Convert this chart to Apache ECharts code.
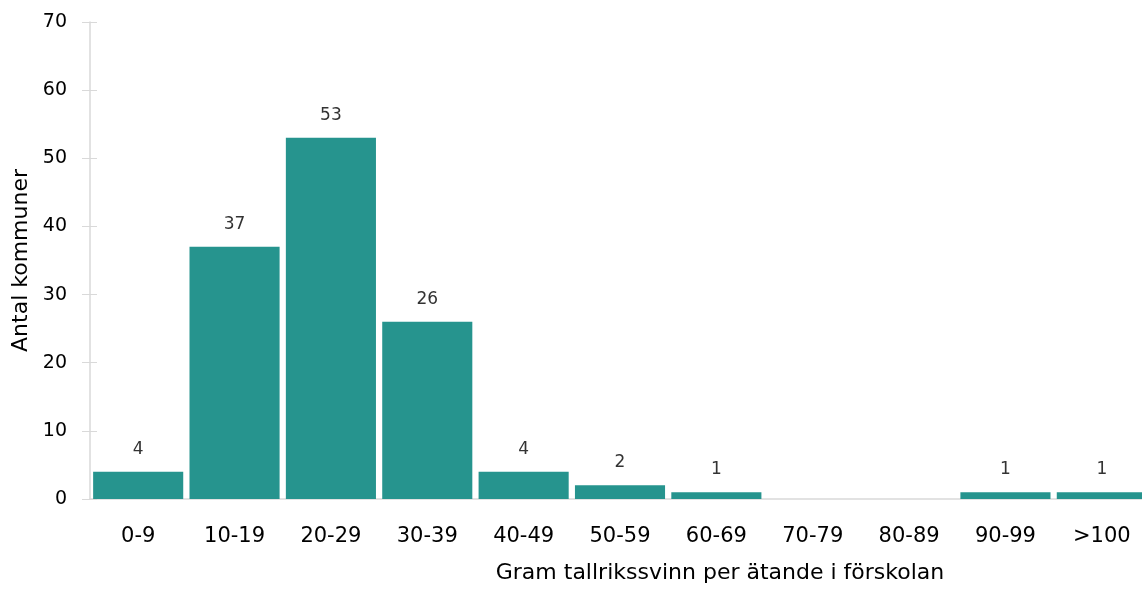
<!DOCTYPE html>
<html><head><meta charset="utf-8">
<script src="https://cdn.jsdelivr.net/npm/echarts@6/dist/echarts.min.js"></script>
<style>html,body{margin:0;padding:0;background:#fff;overflow:hidden;width:1142px;height:603px}#c{width:1150px;height:603px}</style>
</head><body><div id="c"></div>
<script>
const categories = ['0-9','10-19','20-29','30-39','40-49','50-59','60-69','70-79','80-89','90-99','>100'];
const values = [4,37,53,26,4,2,1,0,0,1,1];
const yTicks = [0,10,20,30,40,50,60,70];
const xTitle = 'Gram tallrikssvinn per ätande i förskolan';
const yTitle = 'Antal kommuner';
const FONT = 'DejaVu Sans';
const yMin = yTicks[0], yMax = yTicks[yTicks.length-1];
const chart = echarts.init(document.getElementById('c'), null, {renderer:'canvas'});
chart.setOption({
  animation:false,
  textStyle:{fontFamily:FONT},
  grid:{left:90, top:22, right:0, bottom:104, containLabel:false},
  xAxis:{type:'category', data:categories,
    axisLine:{show:true, lineStyle:{color:'#d9d9d9', width:1.5}},
    axisTick:{show:false},
    axisLabel:{color:'#000', fontSize:21, fontFamily:FONT, margin:27}
  },
  yAxis:[{type:'value', min:yMin, max:yMax, interval:10,
    name:yTitle, nameLocation:'middle', nameGap:58, nameRotate:90,
    nameTextStyle:{color:'#000', fontSize:22, fontFamily:FONT},
    axisLine:{show:true, lineStyle:{color:'#d9d9d9', width:1.5}},
    axisTick:{show:true, length:8, lineStyle:{color:'#d9d9d9'}},
    splitLine:{show:false},
    axisLabel:{color:'#000', fontSize:19, fontFamily:FONT, margin:23}
  },{type:'value', min:yMin, max:yMax, interval:10, position:'left',
    axisLine:{show:false}, axisLabel:{show:false}, splitLine:{show:false},
    axisTick:{show:true, inside:true, length:7, lineStyle:{color:'#d9d9d9'}}
  }],
  graphic:[{type:'text', x:720, y:573, style:{text:xTitle, fill:'#000', font:'22px "'+FONT+'"', align:'center', verticalAlign:'middle'}}],
  series:[{type:'bar', data:values, barCategoryGap:'6.5%', yAxisIndex:0,
    itemStyle:{color:'#26948E'},
    label:{show:true, position:'top', distance:14, color:'#333', fontSize:17, fontFamily:FONT,
      formatter:p=>p.value>0?p.value:''}
  }]
});
</script></body></html>
